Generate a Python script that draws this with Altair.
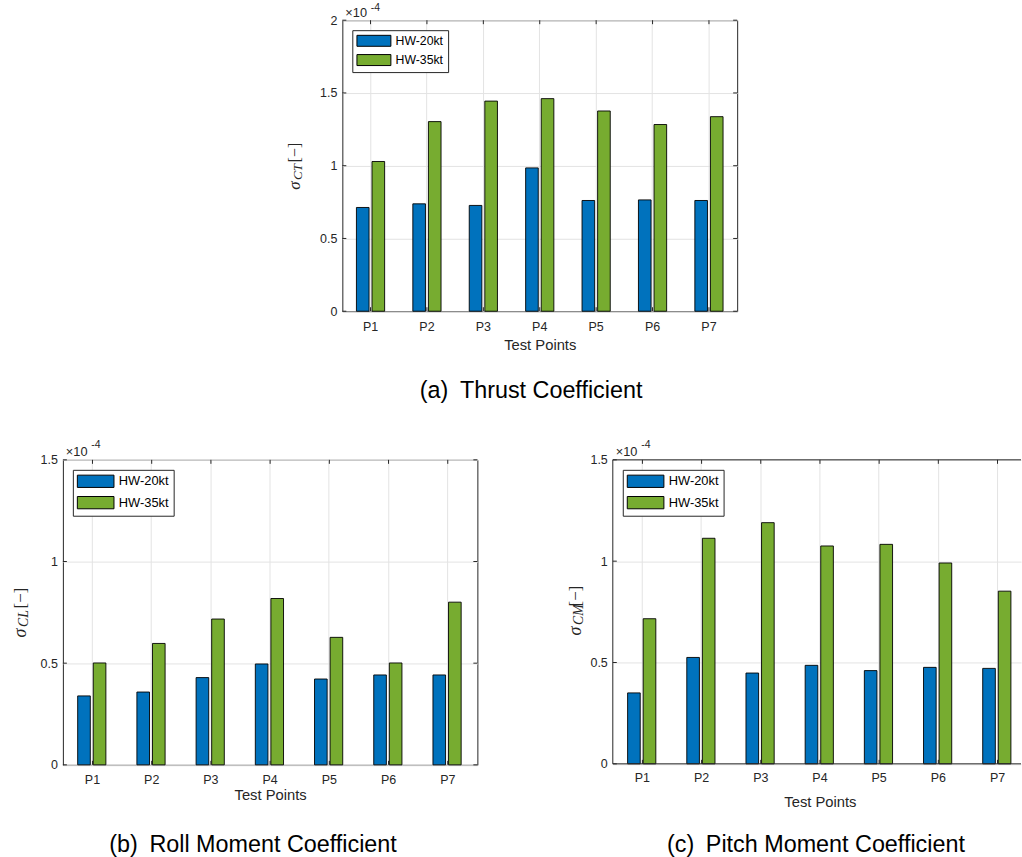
import altair as alt
import pandas as pd

# ---------------- data (values in units of 1e-4) ----------------
categories = ["P1", "P2", "P3", "P4", "P5", "P6", "P7"]
series_names = ["HW-20kt", "HW-35kt"]
series_colors = ["#0072BD", "#77AC30"]

thrust_hw20 = [0.713, 0.738, 0.727, 0.985, 0.761, 0.765, 0.761]
thrust_hw35 = [1.029, 1.303, 1.444, 1.461, 1.376, 1.283, 1.337]
roll_hw20 = [0.339, 0.358, 0.429, 0.496, 0.422, 0.442, 0.442]
roll_hw35 = [0.501, 0.597, 0.717, 0.818, 0.627, 0.501, 0.800]
pitch_hw20 = [0.350, 0.525, 0.448, 0.486, 0.460, 0.476, 0.471]
pitch_hw35 = [0.716, 1.113, 1.190, 1.075, 1.083, 0.991, 0.852]

yticks_thrust = [0, 0.5, 1, 1.5, 2]
yticks_moment = [0, 0.5, 1, 1.5]

captions = ["(a)\u2002Thrust Coefficient",
            "(b)\u2002Roll Moment Coefficient",
            "(c)\u2002Pitch Moment Coefficient"]
subscripts = ["CT", "CL", "CM"]
x_title = "Test Points"
mult_text = "\u00d710"
exp_text = "-4"
sigma_text = "\u03c3"
bracket_text = "[\u2212]"

AXIS_COLOR = "#262626"
SANS = "Liberation Sans"
SERIF = "Liberation Serif"


def const_text(txt, x, y, **kw):
    return alt.Chart(pd.DataFrame({"t": [txt]})).mark_text(**kw).encode(
        text="t:N", x=alt.value(x), y=alt.value(y))


def const_rule(x, x2, y, y2):
    return alt.Chart(pd.DataFrame({"r": [0]})).mark_rule(color=AXIS_COLOR, strokeWidth=1).encode(
        x=alt.value(x), x2=alt.value(x2), y=alt.value(y), y2=alt.value(y2))


def panel(v20, v35, yticks, sub, caption, g):
    W, H, s = g["W"], g["H"], g["s"]
    cut = g.get("cut", False)
    df = pd.DataFrame({
        "cat": categories * 2,
        "series": [series_names[0]] * len(categories) + [series_names[1]] * len(categories),
        "value": v20 + v35,
    })
    h = g["sw_h"]
    a = g["sw_w"] / h
    path = f"M-{a:.3f},-1H{a:.3f}V1H-{a:.3f}Z"
    entry = int(-(-(h + 1) // 1))
    legend = alt.Legend(
        title=None, orient="top-left", offset=10,
        fillColor="white", strokeColor=AXIS_COLOR, padding=g["lpad"],
        rowPadding=g["rowpad"], symbolType=path, symbolSize=h * h,
        symbolStrokeColor="black", symbolStrokeWidth=1, symbolOpacity=1,
        symbolOffset=g["sw_w"] / 2 - entry / 2,
        labelOffset=g["sw_w"] + 3.5 - entry - 10,
        labelFont=SANS, labelFontSize=g["lfs"], labelColor="black",
    )
    if cut:
        # the reference panel runs past the right edge of the page
        xscale = alt.Scale(paddingInner=0.5, paddingOuter=g["po"], align=g["align"])
    else:
        xscale = alt.Scale(paddingInner=0.5, paddingOuter=0.25)
    xenc = alt.X("cat:N", sort=categories, scale=xscale,
                 axis=alt.Axis(title=x_title, labelAngle=0, titleX=g.get("titleX", W / 2),
                               labelPadding=g["lp"], titlePadding=g["tp"]))
    yenc = alt.Y("value:Q", scale=alt.Scale(domain=[0, yticks[-1]], nice=False, zero=True),
                 axis=alt.Axis(title=None, values=yticks, format="~g", labelPadding=5.5))
    bars = alt.Chart(df).mark_bar(stroke="black", strokeWidth=0.9).encode(
        x=xenc,
        xOffset=alt.XOffset("series:N", sort=series_names,
                            scale=alt.Scale(paddingInner=0.19, paddingOuter=0)),
        y=yenc,
        color=alt.Color("series:N", sort=series_names,
                        scale=alt.Scale(domain=series_names, range=series_colors),
                        legend=legend),
    )
    ytdf = pd.DataFrame({"value": yticks})
    xtdf = pd.DataFrame({"cat": categories})
    tick_kw = dict(color=AXIS_COLOR, strokeWidth=1)
    layers = [bars]
    layers.append(alt.Chart(ytdf).mark_rule(**tick_kw).encode(
        y="value:Q", x=alt.value(0), x2=alt.value(4)))
    if not cut:
        layers.append(alt.Chart(ytdf).mark_rule(**tick_kw).encode(
            y="value:Q", x=alt.value(W - 4), x2=alt.value(W)))
    layers.append(alt.Chart(xtdf).mark_rule(**tick_kw).encode(
        x=alt.X("cat:N", sort=categories, bandPosition=0.5),
        y=alt.value(H - 4), y2=alt.value(H)))
    layers.append(alt.Chart(xtdf).mark_rule(**tick_kw).encode(
        x=alt.X("cat:N", sort=categories, bandPosition=0.5),
        y=alt.value(0), y2=alt.value(4)))
    if cut:
        layers.append(const_rule(0, 0, 0, H))
        layers.append(const_rule(0, W, 0, 0))
        layers.append(const_rule(0, W, H, H))

    layers.append(const_text(mult_text, 3, -3.5, align="left", baseline="alphabetic",
                             font=SANS, fontSize=12.8, color=AXIS_COLOR))
    layers.append(const_text(exp_text, 28.5, g["expy"], align="left", baseline="alphabetic",
                             font=SANS, fontSize=10.5, color=AXIS_COLOR))

    tx, ty0 = g["tx"], g["ty0"]
    layers.append(const_text(sigma_text, tx, ty0, angle=270, align="left", baseline="alphabetic",
                             font=SERIF, fontStyle="italic", fontSize=17 * s, color=AXIS_COLOR))
    layers.append(const_text(sub, tx + 2.5 * s, ty0 - 10 * s, angle=270, align="left",
                             baseline="alphabetic", font=SERIF, fontStyle="italic",
                             fontSize=13 * s, color=AXIS_COLOR))
    layers.append(const_text(bracket_text, tx, ty0 - 27.5 * s, angle=270, align="left",
                             baseline="alphabetic", font=SERIF, fontSize=16 * s,
                             color=AXIS_COLOR))
    layers.append(const_text(caption, g["cx"], g["cy"], align="center", baseline="alphabetic",
                             font=SANS, fontSize=23.4, color="black"))

    props = dict(width=W, height=H)
    if cut:
        props["view"] = alt.ViewBackground(stroke="transparent")
    return alt.layer(*layers).properties(**props)


geo_top = dict(W=395.6, H=291.6, s=1.0, sw_w=34, sw_h=11, lpad=4.5, rowpad=3.3, lfs=12.3,
               lp=9, tp=4.4, expy=-9, tx=-42.7, ty0=170, cx=189.1, cy=378.6)
geo_bl = dict(W=415.3, H=305.6, s=1.06, sw_w=36.7, sw_h=12.3, lpad=4.5, rowpad=3.4, lfs=12.9,
              lp=9, tp=0.8, expy=-11.5, tx=-37.3, ty0=178, cx=190.5, cy=392.5)
geo_br = dict(W=409.0, cut=True, po=0.1986, align=0.63, titleX=207.5, H=304.6, s=1.06,
              sw_w=36.7, sw_h=12.3, lpad=4.5, rowpad=3.4, lfs=12.9, lp=8, tp=10.4,
              expy=-12, tx=-32.3, ty0=176, cx=203.5, cy=392.5)

p_top = panel(thrust_hw20, thrust_hw35, yticks_thrust, subscripts[0], captions[0], geo_top)
p_bl = panel(roll_hw20, roll_hw35, yticks_moment, subscripts[1], captions[1], geo_bl)
p_br = panel(pitch_hw20, pitch_hw35, yticks_moment, subscripts[2], captions[2], geo_br)

spacer = alt.Chart(pd.DataFrame({"s": [0]})).mark_point(opacity=0).encode(
    x=alt.value(0), y=alt.value(0)).properties(
    width=279.7, height=10, view=alt.ViewBackground(stroke="transparent"))

top_row = alt.hconcat(spacer, p_top, spacing=0, bounds="flush").resolve_scale(
    color="independent").resolve_legend(color="independent")
bottom_row = alt.hconcat(p_bl, p_br, spacing=135, bounds="flush").resolve_scale(
    color="independent").resolve_legend(color="independent")

chart = alt.vconcat(top_row, bottom_row, spacing=35.5).resolve_scale(
    color="independent").resolve_legend(color="independent").properties(
    padding={"left": 11, "top": 1.4, "right": 0, "bottom": 0},
    background="white",
).configure_view(
    stroke=AXIS_COLOR, strokeWidth=1,
).configure_axis(
    domain=False, ticks=False, tickSize=0, grid=True, gridColor="#e3e3e3", gridWidth=1,
    labelFont=SANS, labelFontSize=12.5, labelColor=AXIS_COLOR,
    titleFont=SANS, titleFontSize=14.8, titleFontWeight="normal", titleColor=AXIS_COLOR,
)

chart.save("out.html", embed_options={"renderer": "svg", "actions": False})
